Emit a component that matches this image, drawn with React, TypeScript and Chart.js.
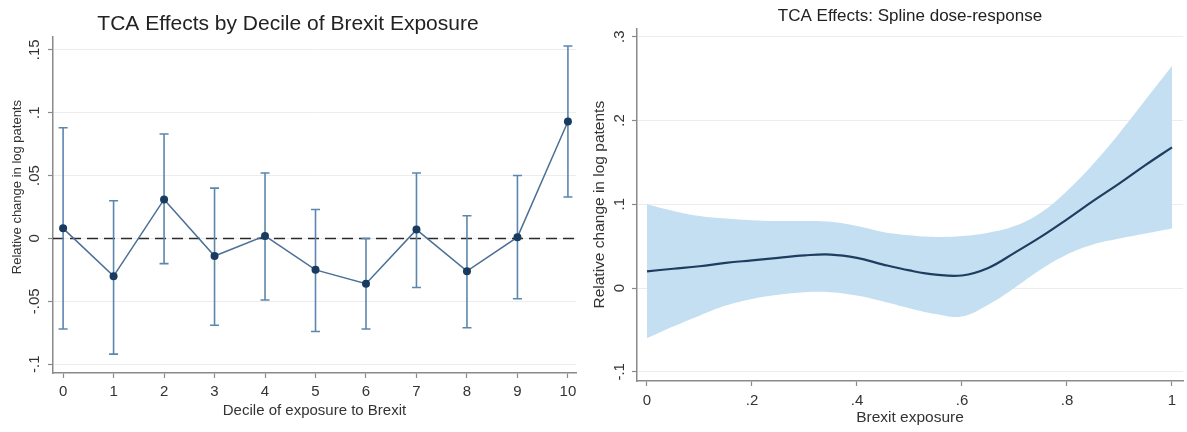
import React, { useEffect, useRef } from "react";
import { Chart, registerables } from "chart.js";

Chart.register(...registerables);

const FONT = "'Liberation Sans', Arial, Helvetica, sans-serif";
Chart.defaults.font.family = FONT;

// ---------- Left panel: effects by decile ----------
const deciles = [0, 1, 2, 3, 4, 5, 6, 7, 8, 9, 10];
const decileEffects = [0.008, -0.03, 0.031, -0.014, 0.002, -0.025, -0.036, 0.007, -0.026, 0.001, 0.093];
const decileLower = [-0.072, -0.092, -0.02, -0.069, -0.049, -0.074, -0.072, -0.039, -0.071, -0.048, 0.033];
const decileUpper = [0.088, 0.03, 0.083, 0.04, 0.052, 0.023, 0.0, 0.052, 0.018, 0.05, 0.153];
const leftXTicks = [0, 1, 2, 3, 4, 5, 6, 7, 8, 9, 10];
const leftXTickLabels = ["0", "1", "2", "3", "4", "5", "6", "7", "8", "9", "10"];
const leftYTicks = [-0.1, -0.05, 0, 0.05, 0.1, 0.15];
const leftYTickLabels = ["-.1", "-.05", "0", ".05", ".1", ".15"];
const zeroLineX = [-0.2, 10.16];
const zeroLineY = [0, 0];

// ---------- Right panel: spline dose-response ----------
const exposure = [0, 0.05, 0.1, 0.15, 0.2, 0.25, 0.3, 0.35, 0.4, 0.45, 0.5, 0.55, 0.6, 0.65, 0.7, 0.75, 0.8, 0.85, 0.9, 0.95, 1.0];
const splineEffect = [0.02, 0.023, 0.026, 0.03, 0.033, 0.036, 0.039, 0.04, 0.036, 0.028, 0.021, 0.016, 0.015, 0.024, 0.042, 0.061, 0.082, 0.104, 0.125, 0.147, 0.168];
const splineUpper = [0.1, 0.092, 0.086, 0.083, 0.081, 0.08, 0.08, 0.079, 0.074, 0.067, 0.063, 0.061, 0.062, 0.066, 0.074, 0.09, 0.116, 0.148, 0.185, 0.225, 0.265];
const splineLower = [-0.06, -0.046, -0.033, -0.021, -0.013, -0.008, -0.005, -0.005, -0.009, -0.016, -0.024, -0.031, -0.034, -0.02, 0.0, 0.022, 0.04, 0.052, 0.059, 0.065, 0.071];
const rightXTicks = [0, 0.2, 0.4, 0.6, 0.8, 1];
const rightXTickLabels = ["0", ".2", ".4", ".6", ".8", "1"];
const rightYTicks = [-0.1, 0, 0.1, 0.2, 0.3];
const rightYTickLabels = ["-.1", "0", ".1", ".2", ".3"];

const TEXT = "#333333";
const AXIS = "#8a8a8a";
const GRID = "#ececec";

type YTextCfg = {
  ticks: number[];
  labels: string[];
  tickOffset: number;
  tickSize: number;
  title: string;
  titleOffset: number;
  titleSize: number;
  titleShift: number;
};

function makeYAxisText(cfg: YTextCfg) {
  return {
    id: "yAxisText",
    afterDraw(chart: any) {
      const ctx = chart.ctx as CanvasRenderingContext2D;
      const scale = chart.scales.y;
      const left = chart.chartArea.left;
      ctx.save();
      ctx.fillStyle = TEXT;
      ctx.textAlign = "center";
      ctx.textBaseline = "middle";
      ctx.font = `${cfg.tickSize}px ${FONT}`;
      cfg.ticks.forEach((v, i) => {
        const y = scale.getPixelForValue(v);
        ctx.save();
        ctx.translate(left - cfg.tickOffset, y);
        ctx.rotate(-Math.PI / 2);
        ctx.fillText(cfg.labels[i], 0, 0);
        ctx.restore();
      });
      ctx.font = `${cfg.titleSize}px ${FONT}`;
      const ty = (scale.top + scale.bottom) / 2 + cfg.titleShift;
      ctx.translate(left - cfg.titleOffset, ty);
      ctx.rotate(-Math.PI / 2);
      ctx.fillText(cfg.title, 0, 0);
      ctx.restore();
    },
  };
}

function setTicks(values: number[]) {
  return (scale: any) => {
    scale.ticks = values.map((v) => ({ value: v }));
  };
}

function LeftChart() {
  const ref = useRef<HTMLCanvasElement>(null);
  useEffect(() => {
    if (!ref.current) return;
    const chart = new Chart(ref.current, {
      type: "scatter",
      data: {
        datasets: [
          {
            type: "line",
            label: "zero",
            data: zeroLineX.map((x, i) => ({ x, y: zeroLineY[i] })),
            borderColor: "#2a2a2a",
            borderWidth: 1.5,
            borderDash: [11, 6],
            pointRadius: 0,
            order: 4,
          } as any,
          {
            type: "line",
            label: "ci",
            data: deciles.flatMap((d, i) => [
              { x: d, y: decileLower[i] },
              { x: d, y: decileUpper[i] },
              { x: d, y: null },
            ]),
            borderColor: "#5b86ad",
            borderWidth: 1.6,
            pointRadius: 0,
            spanGaps: false,
            order: 3,
          } as any,
          {
            type: "scatter",
            label: "caps",
            data: deciles.flatMap((d, i) => [
              { x: d, y: decileLower[i] },
              { x: d, y: decileUpper[i] },
            ]),
            pointStyle: "line",
            pointRadius: 4.5,
            borderColor: "#5b86ad",
            borderWidth: 1.6,
            order: 2,
          } as any,
          {
            type: "line",
            label: "effect",
            data: deciles.map((d, i) => ({ x: d, y: decileEffects[i] })),
            borderColor: "#4c7097",
            borderWidth: 1.5,
            pointRadius: 4,
            pointBackgroundColor: "#1a3b60",
            pointBorderColor: "#1a3b60",
            pointBorderWidth: 0,
            order: 1,
          } as any,
        ],
      },
      options: {
        animation: false,
        responsive: false,
        events: [],
        layout: { padding: { left: 0, right: 14, top: 0, bottom: 0 } },
        plugins: {
          legend: { display: false },
          tooltip: { enabled: false },
          title: {
            display: true,
            text: "TCA Effects by Decile of Brexit Exposure",
            color: "#222222",
            font: { size: 21, weight: "normal", family: FONT },
            padding: { top: 12, bottom: 0 },
          },
        },
        scales: {
          x: {
            type: "linear",
            min: -0.2,
            max: 10.16,
            offset: false,
            afterBuildTicks: setTicks(leftXTicks),
            afterFit: (s: any) => {
              s.height = 59;
            },
            ticks: {
              autoSkip: false,
              maxRotation: 0,
              minRotation: 0,
              color: TEXT,
              font: { size: 15 },
              padding: 5,
              callback: (v: any) => leftXTickLabels[leftXTicks.indexOf(v)],
            },
            grid: { drawOnChartArea: false, drawTicks: true, tickLength: 5, tickColor: AXIS, tickWidth: 1.2 },
            border: { display: true, color: AXIS, width: 1.5 },
            title: {
              display: true,
              text: "Decile of exposure to Brexit",
              color: TEXT,
              font: { size: 15 },
              padding: { top: 0, bottom: 12 },
            },
          },
          y: {
            type: "linear",
            min: -0.107,
            max: 0.16,
            afterBuildTicks: setTicks(leftYTicks),
            afterFit: (s: any) => {
              s.width = 53;
            },
            ticks: { display: false },
            grid: { color: GRID, lineWidth: 1, drawTicks: true, tickLength: 5, tickColor: AXIS, tickWidth: 1.2 },
            border: { display: true, color: AXIS, width: 1.5 },
          },
        },
      } as any,
      plugins: [
        makeYAxisText({
          ticks: leftYTicks,
          labels: leftYTickLabels,
          tickOffset: 18,
          tickSize: 15,
          title: "Relative change in log patents",
          titleOffset: 36,
          titleSize: 13,
          titleShift: -18,
        }),
      ],
    });
    return () => chart.destroy();
  }, []);
  return <canvas ref={ref} width={590} height={432} style={{ display: "block", width: 590, height: 432 }} />;
}

function RightChart() {
  const ref = useRef<HTMLCanvasElement>(null);
  useEffect(() => {
    if (!ref.current) return;
    const chart = new Chart(ref.current, {
      type: "scatter",
      data: {
        datasets: [
          {
            type: "line",
            label: "upper",
            data: exposure.map((x, i) => ({ x, y: splineUpper[i] })),
            borderWidth: 0,
            borderColor: "rgba(0,0,0,0)",
            backgroundColor: "#c4dff2",
            fill: "+1",
            pointRadius: 0,
            tension: 0.4,
            order: 3,
          } as any,
          {
            type: "line",
            label: "lower",
            data: exposure.map((x, i) => ({ x, y: splineLower[i] })),
            borderWidth: 0,
            borderColor: "rgba(0,0,0,0)",
            backgroundColor: "#c4dff2",
            fill: false,
            pointRadius: 0,
            tension: 0.4,
            order: 2,
          } as any,
          {
            type: "line",
            label: "effect",
            data: exposure.map((x, i) => ({ x, y: splineEffect[i] })),
            borderColor: "#1f3d60",
            borderWidth: 2.2,
            pointRadius: 0,
            fill: false,
            tension: 0.4,
            order: 1,
          } as any,
        ],
      },
      options: {
        animation: false,
        responsive: false,
        events: [],
        layout: { padding: { left: 0, right: 4, top: 0, bottom: 0 } },
        plugins: {
          legend: { display: false },
          tooltip: { enabled: false },
          title: {
            display: true,
            fullSize: false,
            text: "TCA Effects: Spline dose-response",
            color: "#222222",
            font: { size: 17, weight: "normal", family: FONT },
            padding: { top: 6, bottom: 2 },
          },
        },
        scales: {
          x: {
            type: "linear",
            min: -0.019,
            max: 1.021,
            offset: false,
            afterBuildTicks: setTicks(rightXTicks),
            afterFit: (s: any) => {
              s.height = 51;
            },
            ticks: {
              autoSkip: false,
              maxRotation: 0,
              minRotation: 0,
              color: TEXT,
              font: { size: 15 },
              padding: 6,
              callback: (v: any) => rightXTickLabels[rightXTicks.indexOf(v)],
            },
            grid: { drawOnChartArea: false, drawTicks: true, tickLength: 5, tickColor: AXIS, tickWidth: 1.2 },
            border: { display: true, color: AXIS, width: 1.5 },
            title: {
              display: true,
              text: "Brexit exposure",
              color: TEXT,
              font: { size: 15.5 },
              padding: { top: 0, bottom: 5 },
            },
          },
          y: {
            type: "linear",
            min: -0.111,
            max: 0.31,
            afterBuildTicks: setTicks(rightYTicks),
            afterFit: (s: any) => {
              s.width = 47;
            },
            ticks: { display: false },
            grid: { color: GRID, lineWidth: 1, drawTicks: true, tickLength: 5, tickColor: AXIS, tickWidth: 1.2 },
            border: { display: true, color: AXIS, width: 1.5 },
          },
        },
      } as any,
      plugins: [
        makeYAxisText({
          ticks: rightYTicks,
          labels: rightYTickLabels,
          tickOffset: 17,
          tickSize: 15,
          title: "Relative change in log patents",
          titleOffset: 37,
          titleSize: 15.5,
          titleShift: 0,
        }),
      ],
    });
    return () => chart.destroy();
  }, []);
  return <canvas ref={ref} width={597} height={432} style={{ display: "block", width: 597, height: 432 }} />;
}

export default function App() {
  return (
    <div style={{ position: "absolute", left: 0, top: 0, width: 1187, height: 432, background: "#ffffff" }}>
      <div style={{ position: "absolute", left: 0, top: 0, width: 590, height: 432 }}>
        <LeftChart />
      </div>
      <div style={{ position: "absolute", left: 590, top: 0, width: 597, height: 432 }}>
        <RightChart />
      </div>
    </div>
  );
}
